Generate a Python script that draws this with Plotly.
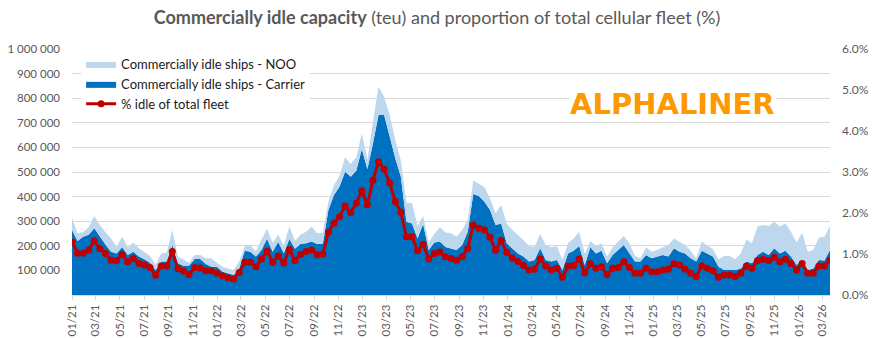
import pandas as pd
import plotly.graph_objects as go

# Fortnightly observation dates, Jan 2021 onwards
dates = pd.date_range("2021-01-01", periods=137, freq="14D")

# Commercially idle capacity held by carriers (teu, thousands)
carrier_kteu = [
    264, 220, 237, 245, 271, 237, 205, 176, 169, 194, 163, 176, 156, 145, 131, 102, 136, 136, 203, 129,
    119, 119, 146, 146, 126, 115, 115, 95, 88, 81, 108, 180, 176, 156, 183, 229, 176, 215, 170, 228,
    188, 207, 210, 217, 207, 207, 346, 407, 440, 501, 481, 505, 592, 511, 617, 732, 732, 644, 556, 481,
    298, 291, 230, 289, 183, 213, 217, 195, 190, 183, 203, 257, 411, 402, 379, 346, 285, 291, 210, 190,
    169, 156, 136, 142, 190, 142, 136, 142, 102, 169, 180, 199, 122, 194, 169, 180, 129, 163, 183, 203,
    170, 136, 136, 163, 149, 156, 163, 156, 190, 176, 169, 149, 136, 180, 169, 156, 115, 102, 102, 102,
    108, 136, 129, 163, 176, 163, 190, 169, 180, 156, 122, 142, 102, 108, 142, 140, 183,
]

# Commercially idle capacity held by non-operating owners (teu, thousands)
noo_kteu = [
    50, 31, 18, 30, 50, 48, 50, 54, 27, 43, 31, 37, 34, 30, 28, 20, 33, 36, 61, 27,
    23, 12, 17, 17, 23, 34, 16, 20, 20, 21, 28, 19, 25, 22, 43, 40, 35, 30, 31, 51,
    32, 38, 47, 61, 44, 46, 33, 40, 44, 59, 52, 55, 65, 40, 88, 115, 74, 88, 74, 65,
    77, 83, 50, 32, 30, 35, 58, 59, 61, 54, 61, 48, 54, 49, 59, 47, 47, 75, 81, 74,
    75, 68, 63, 54, 58, 61, 58, 57, 40, 41, 50, 58, 45, 27, 30, 30, 27, 31, 34, 37,
    40, 24, 13, 31, 27, 27, 31, 47, 40, 41, 34, 31, 12, 37, 34, 30, 30, 57, 57, 43,
    61, 90, 81, 115, 109, 117, 108, 109, 111, 101, 91, 111, 74, 75, 92, 97, 97,
]

# Idle capacity as a share of the total cellular fleet (%)
idle_pct = [
    1.30, 1.02, 1.02, 1.10, 1.32, 1.13, 1.01, 0.85, 0.84, 0.99, 0.81, 0.89, 0.77, 0.73, 0.67, 0.48, 0.71, 0.71, 1.06, 0.64,
    0.58, 0.50, 0.67, 0.66, 0.59, 0.59, 0.53, 0.47, 0.42, 0.39, 0.55, 0.80, 0.80, 0.69, 0.88, 1.07, 0.80, 0.95, 0.78, 1.11,
    0.84, 0.99, 1.06, 1.10, 0.98, 1.00, 1.53, 1.75, 1.91, 2.17, 2.01, 2.24, 2.54, 2.20, 2.80, 3.25, 3.07, 2.73, 2.28, 2.02,
    1.42, 1.42, 1.08, 1.24, 0.88, 1.01, 1.05, 0.93, 0.89, 0.85, 0.93, 1.14, 1.71, 1.63, 1.59, 1.41, 1.09, 1.33, 1.04, 0.90,
    0.82, 0.72, 0.61, 0.63, 0.88, 0.71, 0.61, 0.65, 0.43, 0.71, 0.72, 0.88, 0.54, 0.76, 0.65, 0.69, 0.50, 0.65, 0.67, 0.81,
    0.67, 0.53, 0.53, 0.65, 0.57, 0.57, 0.61, 0.63, 0.76, 0.73, 0.63, 0.53, 0.45, 0.71, 0.65, 0.59, 0.43, 0.49, 0.49, 0.45,
    0.53, 0.71, 0.65, 0.84, 0.87, 0.84, 0.92, 0.81, 0.87, 0.77, 0.61, 0.77, 0.53, 0.53, 0.71, 0.71, 0.85,
]

# Axis tick labels
teu_ticks = [100000, 200000, 300000, 400000, 500000, 600000, 700000, 800000, 900000, 1000000]
teu_labels = ["100 000", "200 000", "300 000", "400 000", "500 000",
              "600 000", "700 000", "800 000", "900 000", "1 000 000"]
pct_ticks = [0.0, 0.01, 0.02, 0.03, 0.04, 0.05, 0.06]

FONT = "Lato"
GREY = "#595959"
GRID = "#d9d9d9"

fig = go.Figure()

fig.add_trace(go.Scatter(
    x=dates, y=[v * 1000 for v in carrier_kteu],
    name="Commercially idle ships - Carrier",
    stackgroup="idle", mode="lines",
    line=dict(width=0, color="#0070C0"), fillcolor="#0070C0",
    legendrank=2,
))
fig.add_trace(go.Scatter(
    x=dates, y=[v * 1000 for v in noo_kteu],
    name="Commercially idle ships - NOO",
    stackgroup="idle", mode="lines",
    line=dict(width=0, color="#BDD7EE"), fillcolor="#BDD7EE",
    legendrank=1,
))
fig.add_trace(go.Scatter(
    x=dates, y=[p / 100 for p in idle_pct],
    name="% idle of total fleet", yaxis="y2",
    mode="lines+markers",
    line=dict(color="#C00000", width=3),
    marker=dict(color="#C00000", size=7),
    legendrank=3,
))

fig.update_layout(
    width=882, height=338,
    margin=dict(l=72, r=52, t=49, b=43),
    paper_bgcolor="white", plot_bgcolor="white",
    font=dict(family=FONT, color=GREY, size=12),
    title=dict(
        text="<b>Commercially idle capacity</b> (teu) and proportion of total cellular fleet (%)",
        x=0.4955, xref="container", xanchor="center",
        y=0.947, yref="container", yanchor="middle",
        font=dict(family=FONT, size=18, color=GREY),
    ),
    showlegend=True,
    legend=dict(
        x=0.012, y=1.0, xanchor="left", yanchor="top",
        traceorder="normal",
        bgcolor="white", borderwidth=0,
        font=dict(family=FONT, size=13, color="#1a1a1a"),
        itemwidth=30,
    ),
    xaxis=dict(
        type="date",
        range=[dates[0], dates[-1]],
        tickmode="linear", tick0="2021-01-01", dtick="M2",
        tickformat="%m/%y", tickangle=-90,
        ticks="outside", ticklen=4, tickcolor=GRID,
        ticklabelstandoff=0,
        showline=True, linecolor=GRID, linewidth=1,
        showgrid=False, automargin=False,
        tickfont=dict(family=FONT, size=11.5, color=GREY),
    ),
    yaxis=dict(
        range=[0, 1000000],
        tickvals=teu_ticks, ticktext=teu_labels,
        showgrid=True, gridcolor=GRID, gridwidth=1,
        zeroline=False, showline=False,
        ticks="", ticklabelstandoff=11, automargin=False,
        tickfont=dict(family=FONT, size=11.5, color=GREY),
    ),
    yaxis2=dict(
        range=[0, 0.06], overlaying="y", side="right",
        tickvals=pct_ticks, tickformat=".1%",
        showgrid=False, zeroline=False, showline=False,
        ticks="", ticklabelstandoff=11, automargin=False,
        tickfont=dict(family=FONT, size=12, color=GREY),
    ),
)

fig.add_annotation(
    text="<b>ALPHALINER</b>",
    xref="paper", yref="paper", x=0.792, y=0.775,
    xanchor="center", yanchor="middle", showarrow=False,
    bgcolor="white", borderpad=0,
    font=dict(family="DejaVu Sans", size=29, color="#FF9900"),
)

fig.write_html("out.html")
